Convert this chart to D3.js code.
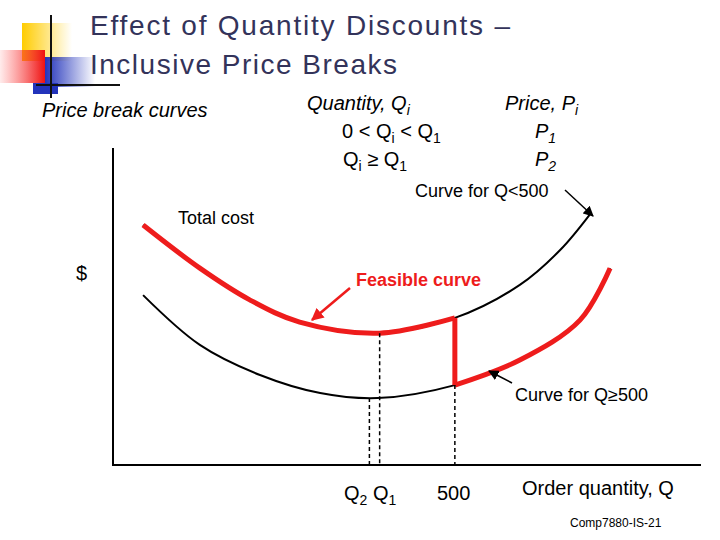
<!DOCTYPE html><html><head><meta charset="utf-8"><script src="https://d3js.org/d3.v7.min.js"></script>
<style>body{margin:0;background:#fff}text{font-family:"Liberation Sans",Arial,sans-serif}</style></head><body>
<script>
const upperQ=[44,127,200,273,390,500,595,654,697];
const upperC=[75.7,62.1,52.1,45.1,41.6,46.4,56.8,67.8,78.9];
const lowerQ=[44,127,215,303,387,500,595,683,727];
const lowerC=[53.6,37.9,28.4,22.7,21.1,25.2,33.1,45.7,62.1];
const breakQ=500, q1=390, q2=375;
const W=720,H=540;
const svg=d3.select("body").append("svg").attr("width",W).attr("height",H);
const x=d3.scaleLinear().domain([0,860]).range([113,701]);
const y=d3.scaleLinear().domain([0,100]).range([465,148]);
const defs=svg.append("defs");
function grad(id,c1,c2,o1,o2){const g=defs.append("linearGradient").attr("id",id);g.append("stop").attr("offset","0").attr("stop-color",c1).attr("stop-opacity",o1);g.append("stop").attr("offset","1").attr("stop-color",c2).attr("stop-opacity",o2);}
grad("gy","#ffcc00","#ffcc00",1,0);grad("gr","#ff4040","#ee1111",0.1,1);grad("gb","#2233bb","#2233bb",1,0);
svg.append("rect").attr("x",22).attr("y",23).attr("width",50).attr("height",38).attr("fill","url(#gy)");
svg.append("rect").attr("x",0).attr("y",50).attr("width",45).attr("height",33).attr("fill","url(#gr)");
svg.append("rect").attr("x",45).attr("y",57).attr("width",50).attr("height",30).attr("fill","url(#gb)");
svg.append("rect").attr("x",33).attr("y",83).attr("width",25).attr("height",11).attr("fill","#2233bb");
svg.append("line").attr("x1",51).attr("x2",51).attr("y1",15).attr("y2",98).attr("stroke","#111").attr("stroke-width",2);
svg.append("line").attr("x1",36).attr("x2",120).attr("y1",85).attr("y2",85).attr("stroke","#111").attr("stroke-width",2);
const tt=svg.append("g").attr("fill","#33335a").attr("font-size",28).attr("style","font-family:'DejaVu Sans'");
tt.append("text").attr("x",90).attr("y",35).attr("textLength",420).text("Effect of Quantity Discounts –");
tt.append("text").attr("x",90).attr("y",74).attr("textLength",307).text("Inclusive Price Breaks");
svg.append("text").attr("x",42).attr("y",117).attr("font-size",20).attr("font-style","italic").text("Price break curves");
svg.append("text").attr("x",307).attr("y",110).attr("font-size",20).attr("font-style","italic").html('Quantity, Q<tspan font-size="14" dy="5">i</tspan>');
svg.append("text").attr("x",505).attr("y",110).attr("font-size",20).attr("font-style","italic").html('Price, P<tspan font-size="14" dy="5">i</tspan>');
svg.append("text").attr("x",342).attr("y",138).attr("font-size",20).html('0 &lt; Q<tspan font-size="14" dy="5">i</tspan><tspan dy="-5"> &lt; Q</tspan><tspan font-size="14" dy="5">1</tspan>');
svg.append("text").attr("x",343).attr("y",166).attr("font-size",20).html('Q<tspan font-size="14" dy="5">i</tspan><tspan dy="-5"> ≥ Q</tspan><tspan font-size="14" dy="5">1</tspan>');
svg.append("text").attr("x",535).attr("y",138).attr("font-size",20).attr("font-style","italic").html('P<tspan font-size="14" dy="5">1</tspan>');
svg.append("text").attr("x",535).attr("y",166).attr("font-size",20).attr("font-style","italic").html('P<tspan font-size="14" dy="5">2</tspan>');
svg.append("line").attr("x1",113).attr("x2",113).attr("y1",148).attr("y2",466).attr("stroke","#000").attr("stroke-width",2);
svg.append("line").attr("x1",112).attr("x2",701).attr("y1",465).attr("y2",465).attr("stroke","#000").attr("stroke-width",2);
const line=d3.line().x(d=>x(d[0])).y(d=>y(d[1])).curve(d3.curveCatmullRom);
const up=upperQ.map((q,i)=>[q,upperC[i]]), lo=lowerQ.map((q,i)=>[q,lowerC[i]]);
svg.append("path").attr("d",line(up)).attr("fill","none").attr("stroke","#000").attr("stroke-width",2);
svg.append("path").attr("d",line(lo)).attr("fill","none").attr("stroke","#000").attr("stroke-width",2);
const bi=upperQ.indexOf(breakQ), li=lowerQ.indexOf(breakQ);
svg.append("path").attr("d",line(up.slice(0,bi+1))).attr("fill","none").attr("stroke","#ee1c1c").attr("stroke-width",5);
svg.append("path").attr("d",line(lo.slice(li))).attr("fill","none").attr("stroke","#ee1c1c").attr("stroke-width",5);
svg.append("line").attr("x1",x(breakQ)).attr("x2",x(breakQ)).attr("y1",y(upperC[bi])).attr("y2",y(lowerC[li])).attr("stroke","#ee1c1c").attr("stroke-width",5);
function dash(q,c){svg.append("line").attr("x1",x(q)).attr("x2",x(q)).attr("y1",y(c)).attr("y2",465).attr("stroke","#000").attr("stroke-width",1.5).attr("stroke-dasharray","4,3");}
dash(q2,21.1);dash(q1,41.6);dash(breakQ,lowerC[li]);
svg.append("text").attr("x",344).attr("y",500).attr("font-size",20).html('Q<tspan font-size="14" dy="5">2</tspan><tspan dy="-5"> Q</tspan><tspan font-size="14" dy="5">1</tspan>');
svg.append("text").attr("x",437).attr("y",500).attr("font-size",20).text("500");
svg.append("text").attr("x",522).attr("y",495).attr("font-size",20).text("Order quantity, Q");
svg.append("text").attr("x",570).attr("y",527).attr("font-size",12).text("Comp7880-IS-21");
svg.append("text").attr("x",76).attr("y",280).attr("font-size",20).text("$");
svg.append("text").attr("x",178).attr("y",224).attr("font-size",18).text("Total cost");
svg.append("text").attr("x",415).attr("y",197).attr("font-size",18).text("Curve for Q<500");
svg.append("text").attr("x",515).attr("y",401).attr("font-size",18).text("Curve for Q≥500");
svg.append("text").attr("x",356).attr("y",286).attr("font-size",18).attr("font-weight","bold").attr("fill","#ee1c1c").text("Feasible curve");
defs.append("marker").attr("id","ar").attr("viewBox","0 0 10 10").attr("refX",9).attr("refY",5).attr("markerWidth",7).attr("markerHeight",7).attr("orient","auto").append("path").attr("d","M0,0L10,5L0,10z").attr("fill","#000");
defs.append("marker").attr("id","arr").attr("viewBox","0 0 10 10").attr("refX",9).attr("refY",5).attr("markerWidth",5).attr("markerHeight",5).attr("orient","auto").append("path").attr("d","M0,0L10,5L0,10z").attr("fill","#ee1c1c");
function arrow(x1,y1,x2,y2,m,c,w){svg.append("line").attr("x1",x1).attr("y1",y1).attr("x2",x2).attr("y2",y2).attr("stroke",c).attr("stroke-width",w).attr("marker-end","url(#"+m+")");}
arrow(565,190,593,216,"ar","#000",1.5);
arrow(512,383,489,371,"ar","#000",1.5);
arrow(350,288,312,320,"arr","#ee1c1c",2.5);
</script></body></html>
